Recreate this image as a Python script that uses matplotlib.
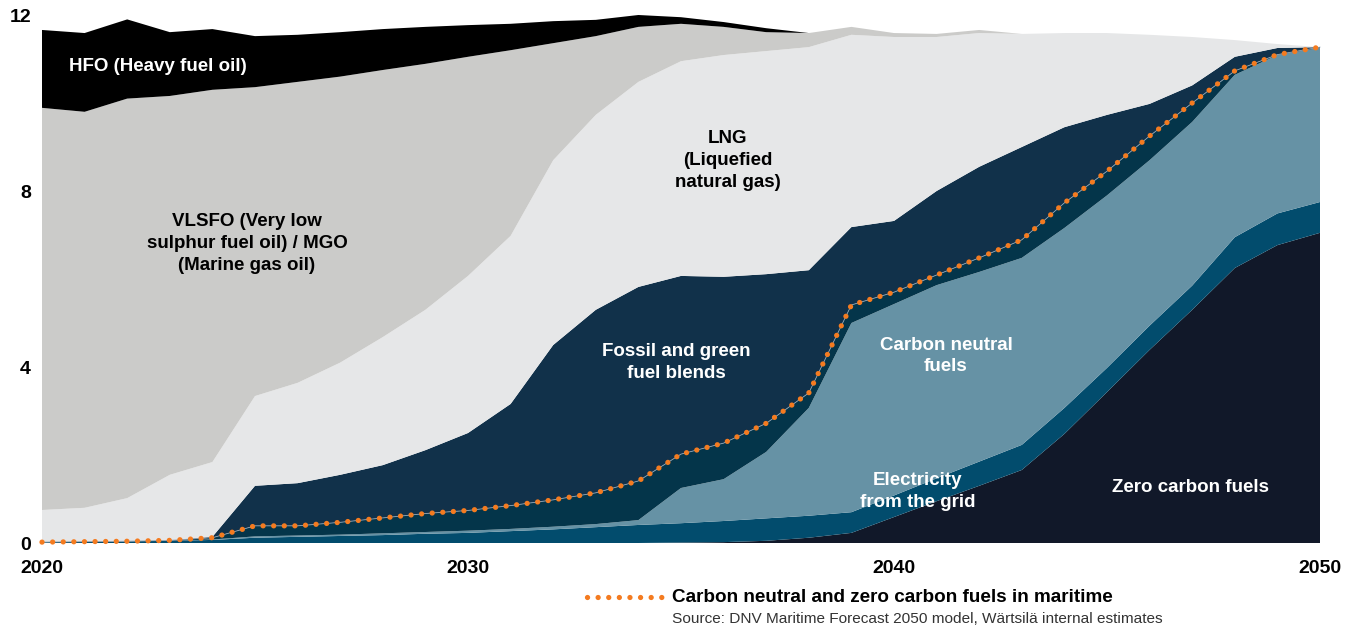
import numpy as np
import matplotlib.pyplot as plt
from matplotlib.lines import Line2D

plt.rcParams['font.family'] = ['Liberation Sans', 'DejaVu Sans']

years = np.arange(2020, 2051)

# fuel demand per layer, bottom to top
zero_carbon = [0, 0, 0, 0, 0, 0, 0, 0, 0, 0,
               0, 0, 0, 0, 0, 0.01, 0.02, 0.05, 0.12, 0.23,
               0.59, 0.95, 1.30, 1.66, 2.48, 3.43, 4.39, 5.30, 6.25, 6.77, 7.05]
electricity = [0.02, 0.03, 0.04, 0.05, 0.07, 0.12, 0.14, 0.16, 0.18, 0.21,
               0.23, 0.27, 0.31, 0.36, 0.41, 0.44, 0.48, 0.51, 0.50, 0.47,
               0.49, 0.52, 0.55, 0.57, 0.59, 0.55, 0.55, 0.55, 0.70, 0.72, 0.70]
carbon_neutral = [0, 0, 0, 0, 0.01, 0.03, 0.03, 0.03, 0.04, 0.04,
                  0.05, 0.05, 0.06, 0.07, 0.11, 0.80, 0.95, 1.51, 2.45, 4.30,
                  4.35, 4.39, 4.31, 4.25, 4.09, 3.92, 3.76, 3.72, 3.69, 3.60, 3.50]
green_blend = [0, 0, 0, 0.01, 0.04, 0.24, 0.22, 0.28, 0.35, 0.42,
               0.46, 0.53, 0.61, 0.71, 0.89, 0.77, 0.82, 0.65, 0.34, 0.41,
               0.27, 0.23, 0.32, 0.41, 0.57, 0.55, 0.55, 0.43, 0.09, 0.01, 0.02]
fossil_blend = [0, 0, 0, 0, 0.02, 0.91, 0.97, 1.08, 1.20, 1.44,
                1.76, 2.31, 3.52, 4.16, 4.41, 4.05, 3.78, 3.39, 2.79, 1.77,
                1.62, 1.91, 2.07, 2.11, 1.72, 1.28, 0.73, 0.40, 0.32, 0.15, 0]
lng = [0.73, 0.77, 0.98, 1.49, 1.70, 2.04, 2.28, 2.55, 2.91, 3.19,
       3.57, 3.82, 4.20, 4.43, 4.66, 4.88, 5.04, 5.07, 5.07, 4.37,
       4.18, 3.50, 3.04, 2.57, 2.14, 1.86, 1.57, 1.10, 0.38, 0.09, 0]
vlsfo = [9.14, 9.00, 9.08, 8.61, 8.46, 7.02, 6.84, 6.50, 6.07, 5.59,
         4.98, 4.22, 2.66, 1.79, 1.25, 0.85, 0.64, 0.43, 0.32, 0.18,
         0.09, 0.07, 0.07, 0, 0, 0, 0, 0, 0, 0, 0]
hfo = [1.77, 1.79, 1.80, 1.45, 1.38, 1.16, 1.07, 1.01, 0.93, 0.84,
       0.72, 0.60, 0.50, 0.37, 0.27, 0.15, 0.11, 0.09, 0, 0,
       0, 0, 0, 0, 0, 0, 0, 0, 0, 0, 0]

layers = [zero_carbon, electricity, carbon_neutral, green_blend,
          fossil_blend, lng, vlsfo, hfo]
colors = ['#111829', '#024c6d', '#6692a5', '#04354a',
          '#11314a', '#e6e7e8', '#cbcbc9', '#000000']

y_ticks = [0, 4, 8, 12]
x_ticks = [2020, 2030, 2040, 2050]

fig = plt.figure(figsize=(13.53, 6.27), dpi=100)
ax = fig.add_axes([42 / 1353, 84 / 627, 1278 / 1353, 528 / 627])

ax.stackplot(years, *layers, colors=colors, linewidth=0, clip_on=False)

# carbon neutral + zero carbon share (top of the green part of the blends)
dots = dict(color='#f47b20', lw=3.8, linestyle=(0, (0.01, 2.0)),
            dash_capstyle='round')
cn_total = np.sum(np.array(layers[:4]), axis=0)
ax.plot(years, cn_total, color='#8fa3b3', lw=0.6, clip_on=False)
ax.plot(years, cn_total, clip_on=False, **dots)

ax.set_xlim(2020, 2050)
ax.set_ylim(0, 12)
ax.set_xticks(x_ticks)
ax.set_xticklabels([str(t) for t in x_ticks])
ax.set_yticks(y_ticks)
ax.set_yticklabels([str(t) for t in y_ticks])
ax.tick_params(length=0, labelsize=14)
ax.tick_params(axis='x', pad=12)
ax.tick_params(axis='y', pad=8)
for lab in ax.get_xticklabels() + ax.get_yticklabels():
    lab.set_fontweight('bold')
for s in ax.spines.values():
    s.set_visible(False)

lab_kw = dict(fontsize=13.5, fontweight='bold', ha='center', va='center',
              linespacing=1.38)
ax.text(2022.72, 10.82, 'HFO (Heavy fuel oil)', color='white', **lab_kw)
ax.text(2024.81, 6.8, 'VLSFO (Very low\nsulphur fuel oil) / MGO\n(Marine gas oil)',
        color='black', **lab_kw)
ax.text(2036.1, 8.7, 'LNG\n(Liquefied\nnatural gas)', color='black', **lab_kw)
ax.text(2034.88, 4.11, 'Fossil and green\nfuel blends', color='white', **lab_kw)
ax.text(2041.22, 4.25, 'Carbon neutral\nfuels', color='white', **lab_kw)
ax.text(2040.56, 1.16, 'Electricity\nfrom the grid', color='white', **lab_kw)
ax.text(2046.97, 1.27, 'Zero carbon fuels', color='white', **lab_kw)

# legend and source
fig.add_artist(Line2D([587 / 1353, 664 / 1353], [1 - 597 / 627, 1 - 597 / 627],
                      **dots))
fig.text(672 / 1353, 1 - 597 / 627, 'Carbon neutral and zero carbon fuels in maritime',
         fontsize=13.6, fontweight='bold', va='center', ha='left')
fig.text(672 / 1353, 1 - 619 / 627,
         'Source: DNV Maritime Forecast 2050 model, Wärtsilä internal estimates',
         fontsize=11.1, color='#333333', va='center', ha='left')

fig.savefig('out.png', dpi=100)
